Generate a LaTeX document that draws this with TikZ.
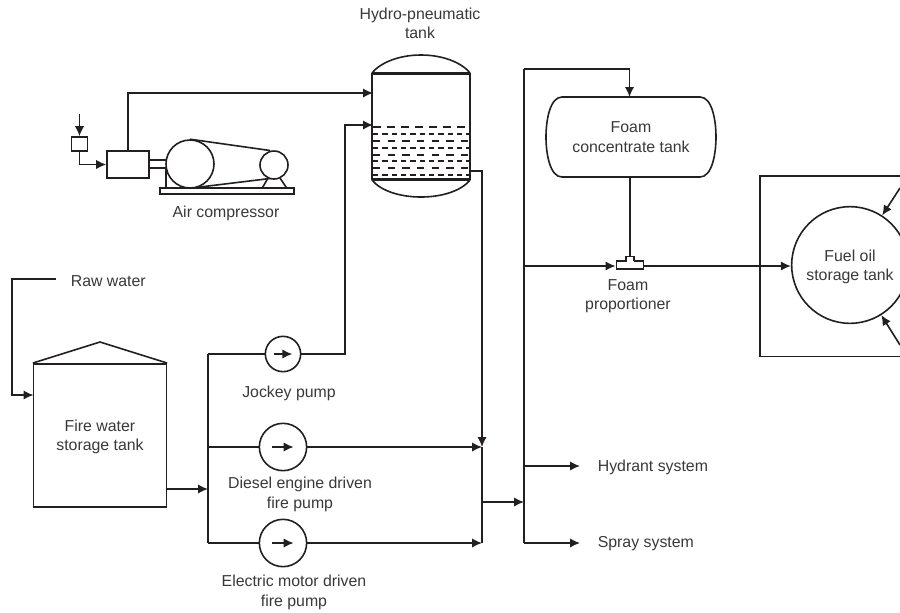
\documentclass[tikz,border=0pt]{standalone}
\usepackage{fontspec}
\setmainfont{Liberation Sans}
\usetikzlibrary{arrows.meta, positioning}
\definecolor{inkline}{HTML}{231F20}
\definecolor{inktext}{HTML}{3A3839}

\begin{document}
\begin{tikzpicture}[
  x=0.75pt, y=-0.75pt,
  line width=1.2pt, draw=inkline,
  pipe/.style={draw=inkline, line width=1.2pt},
  flow/.style={pipe, -{Latex[length=7.5pt, width=7pt]}},
  lbl/.style={text=inktext, font=\fontsize{11.9}{14.5}\selectfont, align=center, inner sep=0pt},
  tankbox/.style={pipe, rectangle, inner sep=0pt, lbl},
  pumpsmall/.style={pipe, circle, minimum size=26.5pt, inner sep=0pt},
  pumpbig/.style={pipe, circle, minimum size=35.5pt, inner sep=0pt}
]
\useasboundingbox (0,0) rectangle (900,612);

% fire water tank
\node[tankbox, draw, minimum width=99.5pt, minimum height=107.5pt] (firetank) at (100,435.5)
  {\rule{0pt}{11pt}Fire water \\ storage tank};
\draw[pipe] (firetank.north west) -- (100,342) -- (firetank.north east);
\node[lbl, anchor=west] (rawwater) at (70,281) {Raw water};
\coordinate (rawend) at (56,279);
\coordinate (rawin) at (33.5,395);
\draw[flow] (rawend) -| (12,395) -- (rawin);

% pumps
\coordinate (hdrtop) at (208,354);
\coordinate (hdrmid) at (208,447);
\coordinate (hdrbot) at (208,543);
\coordinate (hdrin) at (208,489);
\draw[flow] (firetank.east |- hdrin) -- (hdrin);
\draw[pipe] (hdrtop) -- (hdrbot);

\node[pumpsmall, draw] (jockey) at (283,354) {};
\node[pumpbig, draw] (diesel) at (283,447) {};
\node[pumpbig, draw] (electric) at (283,543) {};
\foreach \p/\d in {jockey/7, diesel/8, electric/8}
  \draw[flow] ([xshift=-\d pt]\p.center) -- ([xshift=\d pt]\p.center);

\node[lbl] (jockeylbl) at (289,393) {Jockey pump};
\node[lbl] (diesellbl) at (300,494.5) {Diesel engine driven \\ fire pump};
\node[lbl] (electriclbl) at (294,592.5) {Electric motor driven \\ fire pump};

\draw[pipe] (hdrtop) -- (jockey);
\draw[pipe] (hdrmid) -- (diesel);
\draw[pipe] (hdrbot) -- (electric);

% hydro-pneumatic tank
\node[tankbox, minimum width=72.5pt, minimum height=79pt] (hydrotank) at (421,126.5) {};
\draw[pipe] (hydrotank.north west) -- (hydrotank.south west);
\draw[pipe] (hydrotank.north east) -- (hydrotank.south east);
\draw[pipe] (hydrotank.north west) -- (hydrotank.north east);
\draw[pipe] (hydrotank.south west) -- (hydrotank.south east);
\draw[pipe] (hydrotank.north west) .. controls (381,62) and (400,55) .. (421,55)
  .. controls (442,55) and (461,62) .. (hydrotank.north east);
\draw[pipe] (hydrotank.south west) .. controls (381,191) and (400,197) .. (421,197)
  .. controls (442,197) and (461,191) .. (hydrotank.south east);
\foreach \y/\on/\off in {127/6/4.5, 134/4/3, 141/5.5/5.5, 148/4/3, 155/5.5/5.5, 161/4/3, 168/5.5/5.5, 175/4/3}
  \draw[pipe, dash pattern=on \on pt off \off pt] (373,\y) -- (469,\y);
\node[lbl] (hydrolbl) at (420,23) {Hydro-pneumatic \\ tank};

% air compressor
\node[pipe, draw, rectangle, minimum width=12pt, minimum height=10.5pt, inner sep=0pt] (filter) at (79.5,144) {};
\node[pipe, draw, rectangle, minimum width=31.5pt, minimum height=20pt, inner sep=0pt] (motor) at (128,164.5) {};
\node[pipe, draw, circle, minimum size=36pt, inner sep=0pt] (bigwheel) at (190,164) {};
\node[pipe, draw, circle, minimum size=21pt, inner sep=0pt] (smallwheel) at (274,165) {};
\node[pipe, draw, rectangle, minimum width=100.5pt, minimum height=4.5pt, inner sep=0pt] (skid) at (227,191) {};
\coordinate (airend) at (79.5,114);
\draw[flow] (airend) -- (filter);
\draw[flow] (filter) |- (motor);
\draw[pipe] (149,160) -- (166,160);
\draw[pipe] (149,168) -- (166,168) -- (166,188.5);
\draw[pipe] (bigwheel.north) -- (270,150.5);
\draw[pipe] (200,187) -- (270,178.5);
\draw[pipe] (262,188.5) -- (268,178);
\draw[pipe] (287,188.5) -- (280,178);
\node[lbl] (airlbl) at (226,213) {Air compressor};
\coordinate (airin) at (373,93);
\coordinate (jockeyin) at (373,125);
\draw[flow] (motor) |- (airin);
\draw[flow] (jockey) -- (345,354) |- (jockeyin);

% collector
\coordinate (collin) at (482,447);
\coordinate (collbot) at (482,543);
\coordinate (collout) at (482,502);
\coordinate (hydroout) at (469,171);
\draw[flow] (hydroout) -| (collin);
\draw[pipe] (collin) -- (collbot);
\draw[flow] (diesel) -- (collin);
\draw[flow] (electric) -- (collbot);

% foam header
\coordinate (foamtop) at (524,69);
\coordinate (foambot) at (524,543);
\coordinate (foamin) at (524,502);
\draw[flow] (collout) -- (foamin);
\draw[pipe] (foamtop) -- (foambot);

% foam concentrate tank
\node[lbl, minimum width=127.5pt, minimum height=60pt] (foamtank) at (631,137) {Foam \\ concentrate tank};
\draw[pipe] (562,97) -- (700,97) .. controls (712,97) and (716,120) .. (716,137)
  .. controls (716,154) and (712,177) .. (700,177) -- (562,177)
  .. controls (550,177) and (546,154) .. (546,137)
  .. controls (546,120) and (550,97) .. (562,97) -- cycle;
\draw[flow] (foamtop) -| (629.5,97);

% foam proportioner
\node[pipe, draw, rectangle, minimum width=20.5pt, minimum height=6pt, inner sep=0pt] (proportioner) at (630,265) {};
\node[pipe, draw, rectangle, fill=white, minimum width=6pt, minimum height=4pt, inner sep=0pt] (propneck) at (630,259) {};
\draw[pipe, white, line width=1.4pt] (626.5,261.5) -- (633.5,261.5);
\node[lbl] (proplbl) at (628,296) {Foam \\ proportioner};
\draw[pipe] (630,177) -- (propneck);
\coordinate (foamtee) at (524,266);
\draw[flow] (foamtee) -- (proportioner.west |- foamtee);

% fuel oil tank
\node[tankbox, draw, circle, minimum size=87.5pt] (fueltank) at (850,265) {\rule{0pt}{11pt}Fuel oil \\ storage tank};
\draw[flow] (proportioner.east |- foamtee) -- (fueltank.west |- foamtee);
\draw[pipe] (900,176) -- (760,176) -- (760,356.5) -- (900,356.5);
\coordinate (oilupper) at (900,188);
\coordinate (oillower) at (900,345);
\draw[flow] (oilupper) -- (fueltank);
\draw[flow] (oillower) -- (fueltank);

% outlets
\node[lbl, anchor=west] (hydrant) at (597,467) {Hydrant system};
\node[lbl, anchor=west] (spray) at (597,544) {Spray system};
\coordinate (hydrantend) at (580,466);
\coordinate (sprayend) at (580,543);
\draw[flow] (foamtee |- hydrantend) -- (hydrantend);
\draw[flow] (foambot) -- (sprayend);
\end{tikzpicture}
\end{document}
